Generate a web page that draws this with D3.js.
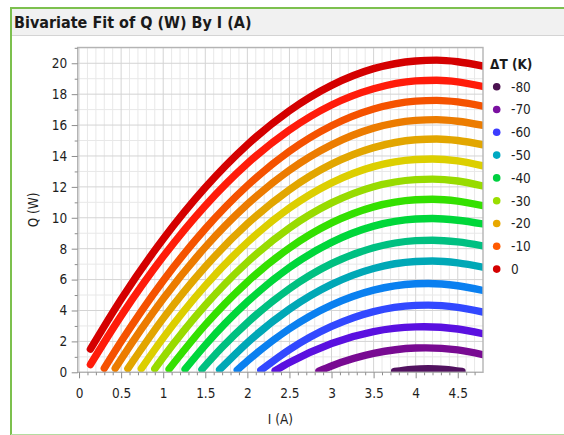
<!DOCTYPE html>
<html>
<head>
<meta charset="utf-8">
<script src="https://cdn.jsdelivr.net/npm/d3@7"></script>
<style>
  body { margin: 0; background: #fff; }
  svg { display: block; }
</style>
</head>
<body>
<div id="chart"></div>
<script>
// Bivariate Fit of Q (W) By I (A) -- one band of points per delta T

// delta T of each band (K), top band first
var deltaT = [0, -5, -10, -15, -20, -25, -30, -35, -40, -45, -50, -55, -60, -65, -70, -75];

var bandColors = ["#d40000", "#ff1c0a", "#f55200", "#ec7c00", "#e2a600", "#dccf00",
                  "#98db00", "#34e000", "#00d73a", "#00c081", "#00a8b6", "#0a80f0",
                  "#3248ff", "#5a10e0", "#780a92", "#521260"];

// [I (A), Q (W)]
var dT0   = [[0.135, 1.5], [0.5, 4.73], [1.0, 8.63], [1.5, 11.96], [2.0, 14.73], [2.5, 16.93], [3.0, 18.57], [3.5, 19.65], [4.0, 20.15], [4.25, 20.2], [4.5, 20.1], [4.8, 19.82]];
var dTm5  = [[0.135, 0.5], [0.5, 3.65], [1.0, 7.49], [1.5, 10.78], [2.0, 13.51], [2.5, 15.68], [3.0, 17.3], [3.5, 18.35], [4.0, 18.86], [4.25, 18.9], [4.5, 18.8], [4.8, 18.5]];
var dTm10 = [[0.3, 0.26], [0.5, 1.99], [1.0, 5.93], [1.5, 9.29], [2.0, 12.08], [2.5, 14.31], [3.0, 15.96], [3.5, 17.04], [4.0, 17.55], [4.25, 17.6], [4.5, 17.5], [4.8, 17.22]];
var dTm15 = [[0.43, 0.26], [0.5, 0.85], [1.0, 4.76], [1.5, 8.1], [2.0, 10.87], [2.5, 13.08], [3.0, 14.72], [3.5, 15.8], [4.0, 16.3], [4.25, 16.35], [4.5, 16.25], [4.8, 15.98]];
var dTm20 = [[0.58, 0.24], [1.0, 3.49], [1.5, 6.83], [2.0, 9.61], [2.5, 11.82], [3.0, 13.47], [3.5, 14.54], [4.0, 15.05], [4.25, 15.1], [4.5, 15.0], [4.8, 14.72]];
var dTm25 = [[0.74, 0.24], [1.0, 2.23], [1.5, 5.61], [2.0, 8.41], [2.5, 10.63], [3.0, 12.26], [3.5, 13.31], [4.0, 13.77], [4.2, 13.8], [4.5, 13.68], [4.8, 13.36]];
var dTm30 = [[0.9, 0.23], [1.0, 0.97], [1.5, 4.34], [2.0, 7.13], [2.5, 9.34], [3.0, 10.96], [3.5, 12.01], [4.0, 12.47], [4.2, 12.5], [4.5, 12.38], [4.8, 12.06]];
var dTm35 = [[1.07, 0.21], [1.5, 3.07], [2.0, 5.85], [2.5, 8.05], [3.0, 9.67], [3.5, 10.71], [4.0, 11.17], [4.2, 11.2], [4.5, 11.08], [4.8, 10.78]];
var dTm40 = [[1.26, 0.2], [1.5, 1.76], [2.0, 4.56], [2.5, 6.78], [3.0, 8.41], [3.5, 9.46], [4.0, 9.92], [4.2, 9.95], [4.5, 9.84], [4.8, 9.6]];
var dTm45 = [[1.46, 0.19], [1.7, 1.62], [2.0, 3.21], [2.5, 5.41], [3.0, 7.03], [3.5, 8.06], [4.0, 8.52], [4.2, 8.55], [4.5, 8.44], [4.8, 8.18]];
var dTm50 = [[1.67, 0.17], [2.0, 1.92], [2.5, 4.09], [3.0, 5.69], [3.5, 6.72], [4.0, 7.17], [4.2, 7.2], [4.5, 7.08], [4.8, 6.8]];
var dTm55 = [[1.88, 0.15], [2.0, 0.73], [2.5, 2.82], [3.0, 4.35], [3.5, 5.32], [4.0, 5.73], [4.15, 5.75], [4.5, 5.6], [4.8, 5.3]];
var dTm60 = [[2.16, 0.13], [2.5, 1.47], [3.0, 2.97], [3.5, 3.93], [4.0, 4.33], [4.15, 4.35], [4.5, 4.2], [4.8, 3.9]];
var dTm65 = [[2.33, 0.1], [2.5, 0.63], [3.0, 1.87], [3.5, 2.64], [4.0, 2.94], [4.1, 2.95], [4.5, 2.8], [4.8, 2.5]];
var dTm70 = [[2.85, 0.07], [3.0, 0.41], [3.5, 1.22], [4.0, 1.57], [4.12, 1.58], [4.5, 1.45], [4.8, 1.14]];
var dTm75 = [[3.75, 0.05], [3.95, 0.19], [4.15, 0.23], [4.35, 0.19], [4.55, 0.05]];

var bands = [dT0, dTm5, dTm10, dTm15, dTm20, dTm25, dTm30, dTm35, dTm40, dTm45, dTm50, dTm55, dTm60, dTm65, dTm70, dTm75];

// axes
var xTicks = [0, 0.5, 1, 1.5, 2, 2.5, 3, 3.5, 4, 4.5];
var yTicks = [0, 2, 4, 6, 8, 10, 12, 14, 16, 18, 20];

// legend
var legendLabels = ["-80", "-70", "-60", "-50", "-40", "-30", "-20", "-10", "0"];
var legendColors = ["#4b1250", "#7a10a0", "#3c3cff", "#00a9c2", "#00d040", "#9ade00", "#e8a800", "#ff5a00", "#d40000"];

var W = 564, H = 435;
var fontUI = "'DejaVu Sans Condensed', 'DejaVu Sans', sans-serif";

var svg = d3.select("#chart").append("svg")
    .attr("width", W)
    .attr("height", H);

// --- Panel: title bar and green outline ---
svg.append("rect")
    .attr("x", 11).attr("y", 8)
    .attr("width", W - 11).attr("height", 27)
    .attr("fill", "#f1f1f1");
svg.append("line")
    .attr("x1", 11).attr("x2", W)
    .attr("y1", 35.5).attr("y2", 35.5)
    .attr("stroke", "#d4d4d4");
svg.append("path")
    .attr("d", "M11,435 V8 H" + W)
    .attr("fill", "none")
    .attr("stroke", "#7cc04e")
    .attr("stroke-width", 2);
svg.append("line")
    .attr("x1", 11).attr("x2", W)
    .attr("y1", 434.5).attr("y2", 434.5)
    .attr("stroke", "#b4dca0");

svg.append("text")
    .attr("x", 14)
    .attr("y", 28)
    .style("font-family", fontUI)
    .style("font-size", "16px")
    .style("font-weight", "bold")
    .style("fill", "#1a1a1a")
    .text("Bivariate Fit of Q (W) By I (A)");

// --- Plot frame ---
var frame = { left: 77.7, right: 483, top: 47.5, bottom: 372.3 };
var width = frame.right - frame.left;
var height = frame.bottom - frame.top;

var x = d3.scaleLinear().domain([-0.016, 4.8]).range([0, width]);
var y = d3.scaleLinear().domain([0, 21.02]).range([height, 0]);

var g = svg.append("g")
    .attr("transform", "translate(" + frame.left + "," + frame.top + ")");

g.append("clipPath").attr("id", "plot-clip")
  .append("rect")
    .attr("width", width)
    .attr("height", height);

var xMinorVals = d3.range(1, 48).map(function(i) { return i / 10; })
    .filter(function(v) { return Math.round(v * 10) % 5 !== 0; });
var yMinorVals = d3.range(1, 22, 2);

// minor grid
g.append("g")
    .selectAll("line")
    .data(xMinorVals)
    .enter().append("line")
    .attr("x1", function(d) { return x(d); })
    .attr("x2", function(d) { return x(d); })
    .attr("y1", 0).attr("y2", height)
    .attr("stroke", "#e8e8e8");
g.append("g")
    .selectAll("line")
    .data(yMinorVals)
    .enter().append("line")
    .attr("y1", function(d) { return y(d); })
    .attr("y2", function(d) { return y(d); })
    .attr("x1", 0).attr("x2", width)
    .attr("stroke", "#e8e8e8");

// major grid
g.append("g")
    .selectAll("line")
    .data(xTicks)
    .enter().append("line")
    .attr("x1", function(d) { return x(d); })
    .attr("x2", function(d) { return x(d); })
    .attr("y1", 0).attr("y2", height)
    .attr("stroke", "#d4d4d4");
g.append("g")
    .selectAll("line")
    .data(yTicks)
    .enter().append("line")
    .attr("y1", function(d) { return y(d); })
    .attr("y2", function(d) { return y(d); })
    .attr("x1", 0).attr("x2", width)
    .attr("stroke", "#d4d4d4");

// --- Bands ---
var lineGen = d3.line()
    .x(function(d) { return x(d[0]); })
    .y(function(d) { return y(d[1]); })
    .curve(d3.curveMonotoneX);

var bandGroup = g.append("g").attr("clip-path", "url(#plot-clip)");
bands.forEach(function(b, i) {
    bandGroup.append("path")
        .datum(b)
        .attr("fill", "none")
        .attr("stroke", bandColors[i])
        .attr("stroke-width", 7.4)
        .attr("stroke-linecap", "round")
        .attr("stroke-linejoin", "round")
        .attr("data-dt", deltaT[i])
        .attr("d", lineGen);
});

// frame
g.append("rect")
    .attr("width", width)
    .attr("height", height)
    .attr("fill", "none")
    .attr("stroke", "#b4b4b4")
    .attr("stroke-width", 1.4);

// --- Axes ---
var fmtTick = function(d) { return String(d); };

var xAxis = g.append("g")
    .attr("transform", "translate(0," + height + ")")
    .call(d3.axisBottom(x).tickValues(xTicks).tickSize(6).tickPadding(10.5).tickFormat(fmtTick));
var xMinor = g.append("g")
    .attr("transform", "translate(0," + height + ")")
    .call(d3.axisBottom(x).tickValues(xMinorVals).tickSize(3).tickFormat(""));

var yAxis = g.append("g")
    .call(d3.axisLeft(y).tickValues(yTicks).tickSize(6).tickPadding(4.5).tickFormat(fmtTick));
var yMinor = g.append("g")
    .call(d3.axisLeft(y).tickValues(yMinorVals).tickSize(3).tickFormat(""));

[xAxis, xMinor, yAxis, yMinor].forEach(function(a) {
    a.select(".domain").remove();
    a.selectAll("line").attr("stroke", "#8c8c8c");
    a.selectAll("text")
        .style("font-family", fontUI)
        .style("font-size", "13.5px")
        .style("fill", "#1e1e1e");
});

// axis titles
svg.append("text")
    .attr("x", frame.left + width / 2)
    .attr("y", 424)
    .attr("text-anchor", "middle")
    .style("font-family", fontUI)
    .style("font-size", "13.5px")
    .style("fill", "#1e1e1e")
    .text("I (A)");

svg.append("text")
    .attr("transform", "translate(38," + (frame.top + height / 2) + ") rotate(-90)")
    .attr("text-anchor", "middle")
    .style("font-family", fontUI)
    .style("font-size", "13.5px")
    .style("fill", "#1e1e1e")
    .text("Q (W)");

// --- Legend ---
var legend = svg.append("g")
    .attr("transform", "translate(490,0)");

legend.append("text")
    .attr("x", 0).attr("y", 69)
    .style("font-family", fontUI)
    .style("font-size", "13.5px")
    .style("font-weight", "bold")
    .style("fill", "#1a1a1a")
    .text("\u0394T (K)");

legendLabels.forEach(function(lab, i) {
    var cy = 86.7 + i * 22.8;
    legend.append("circle")
        .attr("cx", 6.7).attr("cy", cy)
        .attr("r", 3.8)
        .attr("fill", legendColors[i]);
    legend.append("text")
        .attr("x", 21).attr("y", cy + 4.8)
        .style("font-family", fontUI)
        .style("font-size", "13.5px")
        .style("fill", "#1e1e1e")
        .text(lab);
});
</script>
</body>
</html>
